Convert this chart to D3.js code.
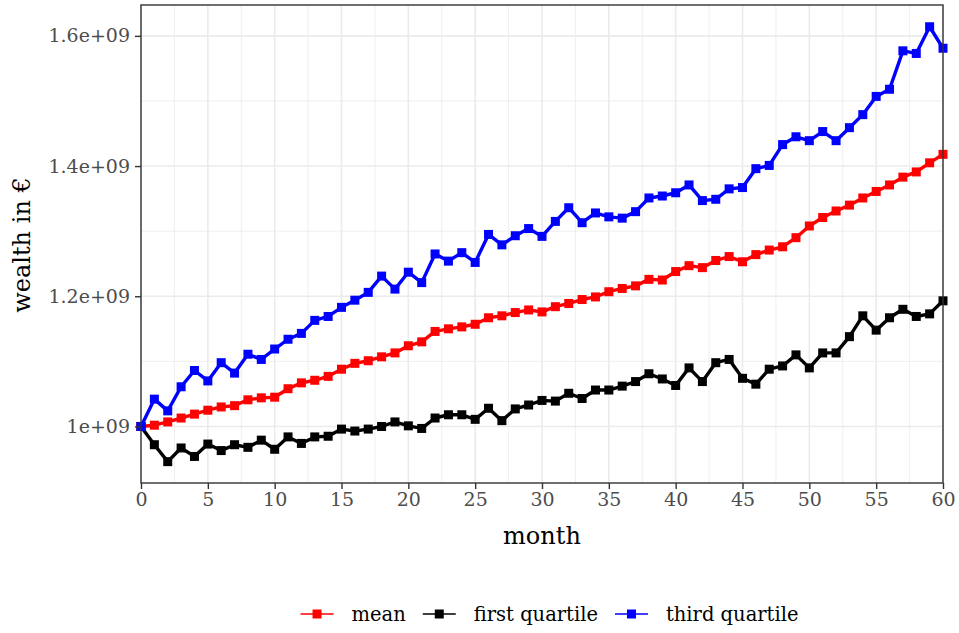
<!DOCTYPE html>
<html>
<head>
<meta charset="utf-8">
<script src="https://cdn.jsdelivr.net/npm/d3@7"></script>
<style>
  body { margin: 0; background: #fff; }
  svg text { font-family: "DejaVu Serif", "Liberation Serif", serif; }
</style>
</head>
<body>
<div id="wrapper"></div>
<script>
// months 0..60
const months = d3.range(0, 61)

// wealth values, in units of 1e9 euro
const wealthMean = [
  1.000, 1.002, 1.007, 1.013, 1.019, 1.025, 1.030, 1.032, 1.041, 1.044,
  1.045, 1.058, 1.067, 1.071, 1.077, 1.088, 1.097, 1.101, 1.107, 1.113,
  1.124, 1.130, 1.146, 1.150, 1.153, 1.157, 1.167, 1.170, 1.175, 1.179,
  1.176, 1.184, 1.189, 1.195, 1.199, 1.207, 1.212, 1.216, 1.226, 1.225,
  1.238, 1.247, 1.244, 1.255, 1.261, 1.253, 1.264, 1.271, 1.276, 1.290,
  1.308, 1.321, 1.331, 1.340, 1.351, 1.361, 1.371, 1.383, 1.391, 1.405,
  1.418
]
const wealthQ1 = [
  1.000, 0.972, 0.946, 0.967, 0.954, 0.973, 0.963, 0.972, 0.968, 0.979,
  0.965, 0.984, 0.974, 0.984, 0.985, 0.996, 0.993, 0.996, 1.000, 1.007,
  1.001, 0.997, 1.013, 1.018, 1.018, 1.011, 1.028, 1.009, 1.027, 1.033,
  1.040, 1.039, 1.051, 1.043, 1.056, 1.056, 1.062, 1.069, 1.081, 1.073,
  1.063, 1.090, 1.069, 1.098, 1.103, 1.074, 1.065, 1.088, 1.093, 1.110,
  1.090, 1.113, 1.113, 1.138, 1.170, 1.148, 1.167, 1.180, 1.169, 1.173,
  1.193
]
const wealthQ3 = [
  1.000, 1.042, 1.024, 1.061, 1.086, 1.070, 1.098, 1.082, 1.111, 1.103,
  1.119, 1.134, 1.143, 1.163, 1.169, 1.183, 1.194, 1.206, 1.231, 1.211,
  1.237, 1.221, 1.265, 1.254, 1.267, 1.252, 1.295, 1.279, 1.293, 1.304,
  1.292, 1.315, 1.336, 1.313, 1.328, 1.322, 1.320, 1.330, 1.351, 1.354,
  1.359, 1.371, 1.347, 1.349, 1.365, 1.367, 1.396, 1.401, 1.433, 1.445,
  1.439, 1.453, 1.439, 1.459, 1.479, 1.507, 1.518, 1.577, 1.573, 1.614,
  1.581
]

const seriesNames = ["mean", "first quartile", "third quartile"]
const seriesColors = ["#ff0000", "#000000", "#0000ff"]
const seriesValues = [wealthMean, wealthQ1, wealthQ3]

const xTicks = [0, 5, 10, 15, 20, 25, 30, 35, 40, 45, 50, 55, 60]
const yTicks = [1.0, 1.2, 1.4, 1.6]
const yMinor = [1.1, 1.3, 1.5]

function drawChart() {
  //1_dimensions
  let dimensions = {
    width: 959,
    height: 633,
    margin: { top: 5, right: 16, bottom: 150, left: 141 },
  }
  dimensions.boundedWidth = dimensions.width - dimensions.margin.left - dimensions.margin.right
  dimensions.boundedHeight = dimensions.height - dimensions.margin.top - dimensions.margin.bottom

  //2_canvas
  const wrapper = d3.select("#wrapper")
    .append("svg")
    .attr("width", dimensions.width)
    .attr("height", dimensions.height)

  const bounds = wrapper.append("g")
    .attr("transform", `translate(${dimensions.margin.left},${dimensions.margin.top})`)

  //3_scales
  const xScale = d3.scaleLinear()
    .domain([0, 60])
    .range([0, dimensions.boundedWidth])
  const yScale = d3.scaleLinear()
    .domain([0.9132, 1.6474])
    .range([dimensions.boundedHeight, 0])

  //4_grids
  const xMinor = xTicks.slice(0, -1).map(d => d + 2.5)
  const gridGroup = bounds.append("g")
  gridGroup.selectAll(".xminor").data(xMinor).join("line")
    .attr("x1", d => xScale(d)).attr("x2", d => xScale(d))
    .attr("y1", 0).attr("y2", dimensions.boundedHeight)
    .attr("stroke", "#ebebeb").attr("stroke-width", 0.8)
  gridGroup.selectAll(".yminor").data(yMinor).join("line")
    .attr("y1", d => yScale(d)).attr("y2", d => yScale(d))
    .attr("x1", 0).attr("x2", dimensions.boundedWidth)
    .attr("stroke", "#ebebeb").attr("stroke-width", 0.8)
  gridGroup.selectAll(".xmajor").data(xTicks).join("line")
    .attr("x1", d => xScale(d)).attr("x2", d => xScale(d))
    .attr("y1", 0).attr("y2", dimensions.boundedHeight)
    .attr("stroke", "#ebebeb").attr("stroke-width", 1.6)
  gridGroup.selectAll(".ymajor").data(yTicks).join("line")
    .attr("y1", d => yScale(d)).attr("y2", d => yScale(d))
    .attr("x1", 0).attr("x2", dimensions.boundedWidth)
    .attr("stroke", "#ebebeb").attr("stroke-width", 1.6)

  //5_data
  const lineGenerator = d3.line()
    .x((d, i) => xScale(months[i]))
    .y(d => yScale(d))

  seriesValues.forEach((values, k) => {
    bounds.append("path")
      .attr("d", lineGenerator(values))
      .attr("fill", "none")
      .attr("stroke", seriesColors[k])
      .attr("stroke-width", 3.4)
      .attr("stroke-linejoin", "round")
  })
  seriesValues.forEach((values, k) => {
    bounds.append("g").selectAll("rect").data(values).join("rect")
      .attr("x", (d, i) => xScale(months[i]) - 4.5)
      .attr("y", d => yScale(d) - 4.5)
      .attr("width", 9)
      .attr("height", 9)
      .attr("fill", seriesColors[k])
  })

  //6_border + axes
  bounds.append("rect")
    .attr("width", dimensions.boundedWidth)
    .attr("height", dimensions.boundedHeight)
    .attr("fill", "none")
    .attr("stroke", "#333333")
    .attr("stroke-width", 1.4)

  const xAxis = bounds.append("g")
    .attr("transform", `translate(0,${dimensions.boundedHeight})`)
    .call(d3.axisBottom(xScale).tickValues(xTicks).tickSize(6).tickPadding(4).tickFormat(d3.format("d")))
  const yAxis = bounds.append("g")
    .call(d3.axisLeft(yScale).tickValues(yTicks).tickSize(6).tickPadding(5)
      .tickFormat(d => (d === 1 ? "1" : d3.format(".1f")(d)) + "e+09"))

  ;[xAxis, yAxis].forEach(ax => {
    ax.select(".domain").remove()
    ax.selectAll(".tick line").attr("stroke", "#333333").attr("stroke-width", 1.4)
    ax.selectAll(".tick text")
      .attr("fill", "#4d4d4d")
      .style("font-size", "19px")
      .style("font-family", "DejaVu Serif, serif")
  })

  // axis titles
  wrapper.append("text")
    .attr("x", dimensions.margin.left + dimensions.boundedWidth / 2)
    .attr("y", 544)
    .attr("text-anchor", "middle")
    .style("font-size", "24px")
    .text("month")

  wrapper.append("text")
    .attr("transform", `translate(30, 245) rotate(-90)`)
    .attr("text-anchor", "middle")
    .style("font-size", "24px")
    .text("wealth in  €")

  //7_legend
  const legend = wrapper.append("g")
  let cursor = 0
  seriesNames.forEach((name, k) => {
    const item = legend.append("g").attr("transform", `translate(${cursor},0)`)
    item.append("line")
      .attr("x1", 0).attr("x2", 33)
      .attr("stroke", seriesColors[k]).attr("stroke-width", 1.6)
    item.append("rect")
      .attr("x", 12).attr("y", -4.5).attr("width", 9).attr("height", 9)
      .attr("fill", seriesColors[k])
    const label = item.append("text")
      .attr("x", 51).attr("y", 7)
      .style("font-size", "19.5px")
      .style("white-space", "pre")
      .text(name)
    cursor += 51 + label.node().getComputedTextLength() + 17
  })
  const legendWidth = cursor - 17
  legend.attr("transform", `translate(${549.5 - legendWidth / 2}, 614)`)
}
drawChart()
</script>
</body>
</html>
